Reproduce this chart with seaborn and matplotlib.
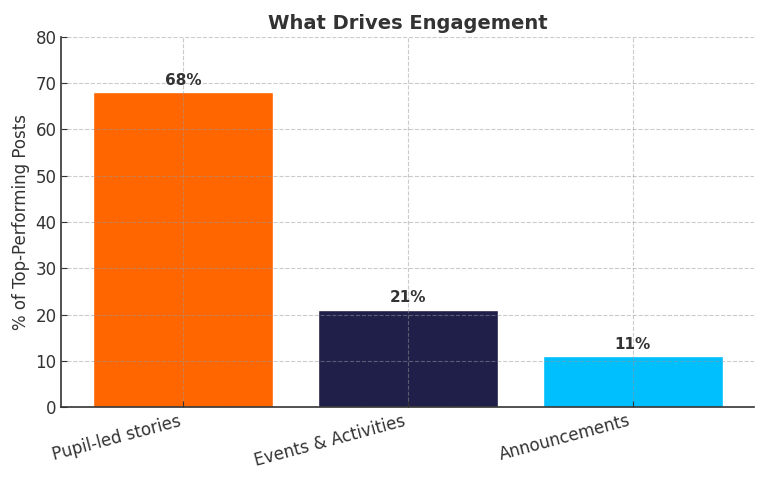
import matplotlib
matplotlib.use("Agg")
import matplotlib.pyplot as plt
import seaborn as sns
import pandas as pd

categories = ["Pupil-led stories", "Events & Activities", "Announcements"]
values = [68, 21, 11]
colors = ["#FF6600", "#201F4A", "#00BFFF"]

sns.set_style("white")
plt.rcParams['font.family'] = ['DejaVu Sans']

df = pd.DataFrame({"cat": categories, "val": values})
fig, ax = plt.subplots(figsize=(7.68, 4.8), dpi=100)
sns.barplot(data=df, x="cat", y="val", hue="cat", palette=colors, saturation=1,
            legend=False, ax=ax, width=0.8)
ax.set_xlim(-0.54, 2.54)
ax.set_ylim(0, 80)
ax.set_axisbelow(False)
ax.grid(True, linestyle="--", color="#999999", linewidth=0.8, alpha=0.5)
for s in ["top", "right"]:
    ax.spines[s].set_visible(False)
for s in ["left", "bottom"]:
    ax.spines[s].set_color("#333333")
    ax.spines[s].set_linewidth(1.2)
ax.tick_params(direction="in", length=4, colors="#333333", labelsize=12, left=True, bottom=True)
ax.set_xlabel("")
ax.set_ylabel("% of Top-Performing Posts", fontsize=12, color="#333333")
ax.set_title("What Drives Engagement", fontsize=14, fontweight="bold", color="#333333")
plt.setp(ax.get_xticklabels(), rotation=15, ha="right", rotation_mode="default")
for i, v in enumerate(values):
    ax.text(i, v + 1, f"{v}%", ha="center", va="bottom", fontsize=11,
            fontweight="bold", color="#333333")
fig.subplots_adjust(left=0.08, right=0.982, top=0.923, bottom=0.152)
fig.savefig("out.png", dpi=100)
